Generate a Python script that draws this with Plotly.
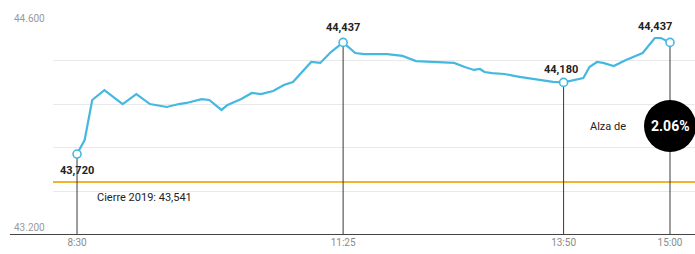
import plotly.graph_objects as go

# ---- data ----
times = ["08:30", "08:35", "08:40", "08:48", "09:00", "09:09", "09:18", "09:29", "09:37", "09:42",
         "09:52", "09:57", "10:05", "10:09", "10:18", "10:25", "10:31", "10:39", "10:46", "10:52",
         "11:04", "11:10", "11:17", "11:25", "11:33", "11:39", "11:54", "12:04", "12:13", "12:24",
         "12:32", "12:38", "12:45", "12:51", "12:55", "12:58", "13:03", "13:11", "13:21", "13:34",
         "13:43", "13:50", "13:57", "14:03", "14:07", "14:12", "14:16", "14:23", "14:31", "14:42",
         "14:50", "14:54", "15:00"]
values = [43720, 43810, 44067, 44131, 44041, 44105, 44041, 44022, 44041, 44048,
          44073, 44067, 44003, 44035, 44073, 44112, 44105, 44125, 44163, 44183,
          44311, 44305, 44375, 44437, 44369, 44362, 44362, 44350, 44317, 44311,
          44311, 44305, 44279, 44260, 44266, 44247, 44240, 44234, 44215, 44195,
          44183, 44180, 44195, 44208, 44279, 44311, 44305, 44285, 44324, 44369,
          44465, 44465, 44437]

highlight_times = ["08:30", "11:25", "13:50", "15:00"]
highlight_values = [43720, 44437, 44180, 44437]
highlight_labels = ["43,720", "44,437", "44,180", "44,437"]

close_2019 = 43541
close_label = "Cierre 2019: 43,541"
change_prefix = "Alza de"
change_pct = "2.06%"

y_min, y_max = 43200, 44600
y_grid_step = 280
y_tick_vals = [44600, 43200]
y_tick_labels = ["44.600", "43.200"]

x_tick_times = ["08:30", "11:25", "13:50", "15:00"]
x_tick_labels = ["8:30", "11:25", "13:50", "15:00"]
x_start, x_end = "08:14:12", "15:16:26"

DAY = "2020-01-02 "
def d(t):
    return DAY + t

FONT = "Roboto"
BLUE = "#45b8e2"

fig = go.Figure()
fig.add_trace(go.Scatter(
    x=[d(t) for t in times], y=values, mode="lines",
    line=dict(color=BLUE, width=2.2), hoverinfo="skip", showlegend=False))
fig.add_trace(go.Scatter(
    x=[d(t) for t in highlight_times], y=highlight_values, mode="markers",
    marker=dict(symbol="circle", size=8, color="white", line=dict(color=BLUE, width=1.6)),
    hoverinfo="skip", showlegend=False))

shapes = []
for t, v in zip(highlight_times, highlight_values):
    shapes.append(dict(type="line", xref="x", yref="y", x0=d(t), x1=d(t), y0=v, y1=y_min,
                       line=dict(color="#3a3a3a", width=1), layer="between"))
shapes.append(dict(type="line", xref="paper", yref="y", x0=0, x1=1, y0=close_2019, y1=close_2019,
                   line=dict(color="#f0b52a", width=2), layer="between"))
# bottom axis line extending left
shapes.append(dict(type="line", xref="paper", yref="y", x0=-0.067, x1=1, y0=y_min, y1=y_min,
                   line=dict(color="#444444", width=2), layer="above"))
# black bubble
shapes.append(dict(type="circle", xref="x", yref="y", xsizemode="pixel", ysizemode="pixel",
                   xanchor=d(highlight_times[-1]), yanchor=43900,
                   x0=-26, x1=26, y0=-26, y1=26,
                   fillcolor="black", line=dict(color="black", width=0), layer="above"))

annotations = []
shifts = [(0, -16), (0, 15), (-3, 13), (-15, 16)]
for t, v, lab, (xs, ys) in zip(highlight_times, highlight_values, highlight_labels, shifts):
    annotations.append(dict(x=d(t), y=v, xref="x", yref="y", text="<b>" + lab + "</b>",
                            showarrow=False, xshift=xs, yshift=ys, xanchor="center", yanchor="middle",
                            font=dict(family=FONT, size=11, color="#222222")))
annotations.append(dict(x=0.0654, y=43444, xref="paper", yref="y", text=close_label,
                        showarrow=False, xanchor="left", yanchor="middle",
                        font=dict(family=FONT, size=11, color="#222222")))
annotations.append(dict(x=d(highlight_times[-1]), y=43900, xref="x", yref="y", text=change_prefix,
                        showarrow=False, xanchor="right", yanchor="middle", xshift=-42,
                        font=dict(family=FONT, size=11, color="#222222")))
annotations.append(dict(x=d(highlight_times[-1]), y=43900, xref="x", yref="y",
                        text="<b>" + change_pct + "</b>",
                        showarrow=False, xanchor="center", yanchor="middle",
                        font=dict(family=FONT, size=14, color="white")))
for v, lab in zip(y_tick_vals, y_tick_labels):
    annotations.append(dict(x=-0.0094, y=v, xref="paper", yref="y", text=lab, showarrow=False,
                            xanchor="right", yanchor="middle", yshift=(-1 if v == y_max else 8),
                            font=dict(family=FONT, size=10, color="#9a9a9a")))

fig.update_layout(
    width=695, height=254,
    margin=dict(l=53, r=0, t=17, b=19),
    paper_bgcolor="white", plot_bgcolor="white",
    shapes=shapes, annotations=annotations,
    xaxis=dict(type="date", range=[d(x_start), d(x_end)],
               tickvals=[d(t) for t in x_tick_times], ticktext=x_tick_labels,
               showgrid=False, zeroline=False, showline=False, ticks="",
               tickfont=dict(family=FONT, size=10, color="#8a8a8a")),
    yaxis=dict(range=[y_min, y_max], tick0=y_min, dtick=y_grid_step, showticklabels=False,
               showgrid=True, gridcolor="#e9e9e9", gridwidth=1, zeroline=False, showline=False, ticks=""),
)

fig.write_html("out.html", config={"displayModeBar": False},
               post_script="document.body.style.margin='0';document.body.style.padding='0';"
                           "document.body.style.overflow='hidden';")
